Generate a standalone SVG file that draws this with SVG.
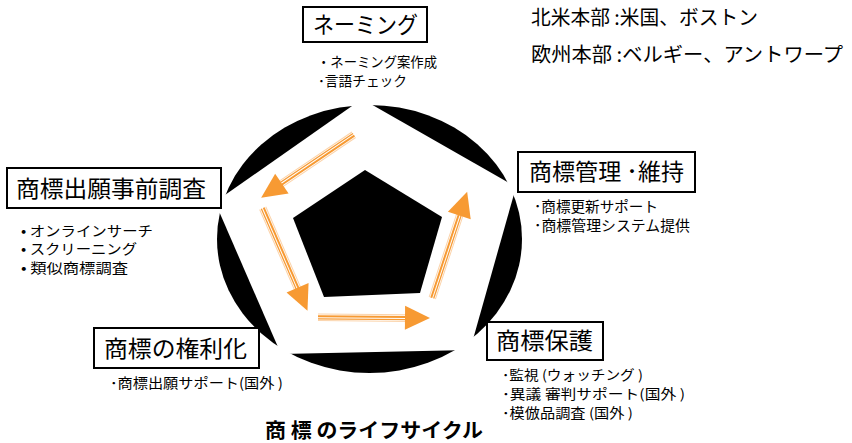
<svg xmlns="http://www.w3.org/2000/svg" xmlns:xlink="http://www.w3.org/1999/xlink" width="852" height="443" viewBox="0 0 852 443">
<style>
text{font-family:"Noto Sans CJK JP","Noto Sans",sans-serif;fill:#000}
.t{font-size:23px}
.s{font-size:14px}
.m{font-size:14.5px}
.p{font-size:13.5px}
.h{font-size:20px}
.box{fill:#fff;stroke:#000;stroke-width:2}
.lt{stroke:#FBD3AA;stroke-width:1}
.or{stroke:#F79A33}
</style>
<defs>
<g id="arr">
<line class="lt" x1="0" y1="-3" x2="90" y2="-3"/>
<line class="or" x1="0" y1="-0.8" x2="90" y2="-0.8" stroke-width="2"/>
<line class="or" x1="0" y1="1.8" x2="90" y2="1.8" stroke-width="1.3"/>
<line class="lt" x1="0" y1="3.6" x2="90" y2="3.6"/>
<polygon points="87,-12 112,0 87,12" fill="#F79A33"/>
</g>
</defs>
<rect width="852" height="443" fill="#fff"/>
<g id="cycle">
<ellipse cx="369.5" cy="239" rx="152.5" ry="134" fill="#000"/>
<polygon points="362,99 516,187 470,350 281,354 215,202" fill="#fff"/>
<polygon points="365,170 442,217 420,293 324,297 293,218" fill="#000"/>
</g>
<g id="connectors">
<use xlink:href="#arr" transform="translate(354,135) rotate(146)"/>
<use xlink:href="#arr" transform="translate(263,208) rotate(66.6)"/>
<use xlink:href="#arr" transform="translate(318,317) rotate(0.5)"/>
<use xlink:href="#arr" transform="translate(432,298) rotate(-71.7)"/>
</g>
<g id="naming">
<rect class="box" x="303" y="7" width="124" height="35"/>
<text class="t" x="313" y="33" textLength="105" lengthAdjust="spacingAndGlyphs">ネーミング</text>
<text class="s"><tspan x="317" y="67" textLength="120" lengthAdjust="spacingAndGlyphs">・ネーミング案作成</tspan><tspan x="318" y="86" textLength="89" lengthAdjust="spacingAndGlyphs">･言語チェック</tspan></text>
</g>
<g id="offices">
<text class="h"><tspan x="531" y="25" textLength="227" lengthAdjust="spacingAndGlyphs">北米本部 :米国、ボストン</tspan><tspan x="531" y="62" textLength="312" lengthAdjust="spacingAndGlyphs">欧州本部 :ベルギー、アントワープ</tspan></text>
</g>
<g id="prefiling">
<rect class="box" x="7" y="168" width="214" height="40"/>
<text class="t" x="16" y="197" textLength="190" lengthAdjust="spacingAndGlyphs">商標出願事前調査</text>
<text class="s"><tspan x="21" y="235.5" textLength="132" lengthAdjust="spacingAndGlyphs">• オンラインサーチ</tspan><tspan x="21" y="254" textLength="116" lengthAdjust="spacingAndGlyphs">• スクリーニング</tspan><tspan x="21" y="272.5" textLength="107" lengthAdjust="spacingAndGlyphs">• 類似商標調査</tspan></text>
</g>
<g id="management">
<rect class="box" x="518" y="152" width="177" height="40"/>
<text class="t" x="529" y="180" textLength="155" lengthAdjust="spacingAndGlyphs">商標管理 ･維持</text>
<text class="m"><tspan x="534" y="212" textLength="124" lengthAdjust="spacingAndGlyphs">･商標更新サポート</tspan><tspan x="534" y="231" textLength="156" lengthAdjust="spacingAndGlyphs">･商標管理システム提供</tspan></text>
</g>
<g id="registration">
<rect class="box" x="94" y="328" width="165" height="40"/>
<text class="t" x="104" y="357" textLength="143" lengthAdjust="spacingAndGlyphs">商標の権利化</text>
<text class="s" x="110" y="388" textLength="173" lengthAdjust="spacingAndGlyphs">･商標出願サポート(国外 )</text>
</g>
<g id="protection">
<rect class="box" x="487" y="322" width="116" height="38"/>
<text class="t" x="496" y="349" textLength="97" lengthAdjust="spacingAndGlyphs">商標保護</text>
<text class="p"><tspan x="502" y="380" textLength="141" lengthAdjust="spacingAndGlyphs">･監視 (ウォッチング )</tspan><tspan x="502" y="399" textLength="183" lengthAdjust="spacingAndGlyphs">･異議 審判サポート(国外 )</tspan><tspan x="502" y="418" textLength="131" lengthAdjust="spacingAndGlyphs">･模倣品調査 (国外 )</tspan></text>
</g>
<g id="title">
<text x="265" y="438" font-size="20" font-weight="bold" textLength="218" lengthAdjust="spacingAndGlyphs">商 標 のライフサイクル</text>
</g>
</svg>
